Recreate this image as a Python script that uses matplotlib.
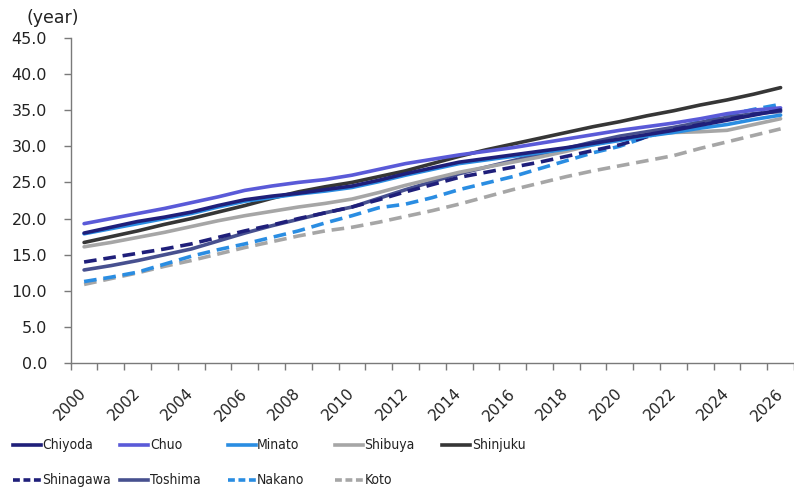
import matplotlib
matplotlib.use("Agg")
import matplotlib.pyplot as plt
from matplotlib import font_manager

years = list(range(2000, 2027))

chiyoda = [18.0, 18.8, 19.6, 20.2, 20.9, 21.8, 22.6, 23.1, 23.5, 24.0, 24.5, 25.3, 26.2, 27.0,
           27.8, 28.3, 28.8, 29.3, 29.8, 30.4, 31.0, 31.6, 32.2, 32.9, 33.6, 34.3, 35.0]
chuo = [19.3, 20.0, 20.7, 21.4, 22.2, 23.0, 23.9, 24.5, 25.0, 25.4, 26.0, 26.8, 27.6, 28.2,
        28.8, 29.3, 29.8, 30.4, 31.0, 31.6, 32.2, 32.7, 33.2, 33.8, 34.5, 35.0, 35.3]
minato = [17.9, 18.6, 19.3, 20.0, 20.7, 21.6, 22.4, 22.9, 23.4, 23.8, 24.3, 25.1, 26.0, 26.8,
          27.6, 28.1, 28.6, 29.1, 29.6, 30.2, 30.8, 31.4, 31.9, 32.5, 33.0, 33.7, 34.3]
shibuya = [16.1, 16.7, 17.4, 18.1, 18.9, 19.7, 20.4, 21.0, 21.6, 22.1, 22.7, 23.6, 24.6, 25.5,
           26.4, 27.1, 27.8, 28.5, 29.3, 30.2, 31.0, 31.6, 31.9, 32.0, 32.2, 33.0, 33.8]
shinjuku = [16.7, 17.5, 18.3, 19.2, 20.0, 20.9, 21.8, 22.8, 23.7, 24.4, 25.0, 25.8, 26.6, 27.6,
            28.6, 29.5, 30.3, 31.1, 31.9, 32.7, 33.4, 34.2, 34.9, 35.7, 36.4, 37.2, 38.1]
shinagawa = [14.0, 14.6, 15.2, 15.8, 16.5, 17.4, 18.3, 19.1, 20.0, 20.8, 21.6, 22.6, 23.7, 24.7,
             25.7, 26.4, 27.1, 27.8, 28.6, 29.4, 30.2, 31.3, 32.3, 33.0, 33.7, 34.4, 35.0]
toshima = [12.9, 13.5, 14.2, 15.0, 15.8, 16.9, 18.0, 19.0, 19.9, 20.8, 21.6, 22.8, 24.0, 25.1,
           26.2, 27.1, 28.0, 28.9, 29.7, 30.6, 31.4, 32.0, 32.6, 33.3, 34.0, 34.5, 34.8]
nakano = [11.3, 11.9, 12.6, 13.7, 14.8, 15.7, 16.5, 17.4, 18.3, 19.4, 20.4, 21.5, 22.0, 22.9,
          24.0, 24.9, 25.8, 26.9, 28.0, 29.1, 30.0, 31.3, 32.5, 33.4, 34.3, 35.1, 35.8]
koto = [10.9, 11.7, 12.5, 13.4, 14.2, 15.1, 16.0, 16.8, 17.6, 18.3, 18.8, 19.5, 20.3, 21.1,
        22.0, 23.0, 24.0, 24.9, 25.8, 26.6, 27.3, 28.0, 28.7, 29.7, 30.6, 31.5, 32.4]

NAVY = "#1f1f7a"
PURPLE = "#5a5ad8"
BLUE = "#2a8de2"
GRAY = "#a6a6a6"
BLACK = "#363636"
SLATE = "#47508f"

series = [
    ("Chiyoda", chiyoda, NAVY, "-"),
    ("Chuo", chuo, PURPLE, "-"),
    ("Minato", minato, BLUE, "-"),
    ("Shibuya", shibuya, GRAY, "-"),
    ("Shinjuku", shinjuku, BLACK, "-"),
    ("Shinagawa", shinagawa, NAVY, "--"),
    ("Toshima", toshima, SLATE, "-"),
    ("Nakano", nakano, BLUE, "--"),
    ("Koto", koto, GRAY, "--"),
]

# narrow face for the legend if one is around
fonts = font_manager.fontManager.ttflist
if any(f.name == "Liberation Sans Narrow" for f in fonts):
    legend_font = dict(family="Liberation Sans Narrow", fontsize=11)
elif any(f.name == "DejaVu Sans" and f.stretch == "condensed" for f in fonts):
    legend_font = dict(family="DejaVu Sans", fontstretch="condensed", fontsize=10)
else:
    legend_font = dict(family="Liberation Sans", fontsize=10.5)

W, H = 794, 488
fig = plt.figure(figsize=(W / 100, H / 100), dpi=100)
ax = fig.add_axes([70.7 / W, 1 - 363.3 / H, 1 - 70.7 / W, (363.3 - 37.7) / H])

x = list(range(len(years)))
# draw back to front so the first districts end up on top
for name, vals, color, ls in reversed(series):
    line, = ax.plot(x, vals, color=color, lw=2.6, solid_capstyle="round")
    if ls == "--":
        line.set_dashes((3.5, 1.9))
        line.set_dash_capstyle("butt")

ax.set_xlim(-0.5, len(years) - 0.5)
ax.set_ylim(0, 45)
ax.set_yticks([i * 5 for i in range(10)])
ax.set_yticklabels([f"{i * 5:.1f}" for i in range(10)])

ax.set_xticks(x[::2])
ax.set_xticklabels([str(y) for y in years[::2]], rotation=45, ha="right",
                   va="center", rotation_mode="anchor")
ax.set_xticks([i - 0.5 for i in range(len(years) + 1)], minor=True)

spine_color = "#7a7a7a"
for side in ("top", "right"):
    ax.spines[side].set_visible(False)
for side in ("left", "bottom"):
    ax.spines[side].set_color(spine_color)
    ax.spines[side].set_linewidth(1.0)

ax.tick_params(axis="x", which="major", length=0, pad=20, labelsize=11, labelcolor="#222222")
ax.tick_params(axis="x", which="minor", length=5, color=spine_color, width=1.0)
ax.tick_params(axis="y", length=5, color=spine_color, width=1.0, pad=12,
               labelsize=11.5, labelcolor="#222222")

fig.text(26 / W, 1 - 18 / H, "(year)", fontsize=12.5, color="#222222", va="center", ha="left")

# legend laid out in two rows of fixed-width columns
lax = fig.add_axes([0, 0, 1, 1])
lax.set_xlim(0, W)
lax.set_ylim(H, 0)
lax.axis("off")
for i, (name, vals, color, ls) in enumerate(series):
    row, col = divmod(i, 5)
    x0 = 13 + col * 107.3
    y0 = 445 + row * 35
    h, = lax.plot([x0, x0 + 28], [y0, y0], color=color, lw=2.6)
    if ls == "--":
        h.set_dashes((1.9, 1.0))
        h.set_dash_capstyle("butt")
    lax.text(x0 + 29.5, y0, name, color="#222222", va="center", ha="left", **legend_font)

fig.savefig("out.png", dpi=100)
